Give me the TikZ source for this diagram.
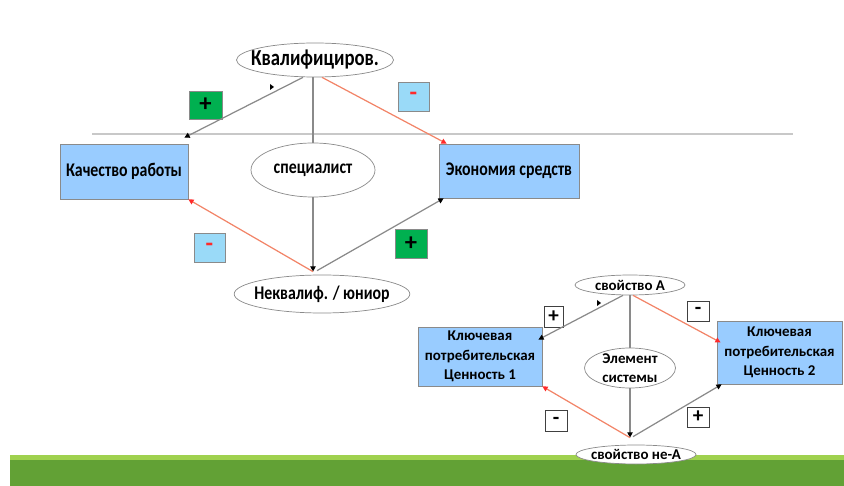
\documentclass[tikz,border=0pt]{standalone}
\usepackage{fontspec}
\setmainfont{Carlito}
\newfontfamily\condfont{Carlito}[FakeStretch=0.82]
\usetikzlibrary{arrows.meta,shapes.geometric}

\definecolor{boxblue}{HTML}{99CCFF}
\definecolor{signblue}{HTML}{9ADAF8}
\definecolor{signgreen}{HTML}{00B050}
\definecolor{linegray}{HTML}{8A8A8A}
\definecolor{rulegray}{HTML}{C8C8C8}
\definecolor{linered}{HTML}{F28468}
\definecolor{tipred}{HTML}{FF2A2A}
\definecolor{grassdark}{HTML}{62A135}
\definecolor{grasslight}{HTML}{9FD14E}

\begin{document}
\begin{tikzpicture}[x=0.2mm,y=-0.2mm,
  topfont/.style={font=\condfont\bfseries\fontsize{11}{13}\selectfont},
  lowfont/.style={font=\bfseries\fontsize{8.5}{11}\selectfont},
  oval/.style={ellipse,draw=linegray,fill=white,inner sep=0pt,align=center},
  valbox/.style={rectangle,draw=linegray,fill=boxblue,inner sep=0pt,align=center},
  signbox/.style={rectangle,draw=linegray,inner sep=0pt,font=\bfseries\fontsize{14}{14}\selectfont},
  wsign/.style={rectangle,draw=black!75,fill=white,inner sep=0pt,font=\bfseries\fontsize{12}{12}\selectfont},
  link/.style={draw=linegray,line width=0.7pt},
  tip/.style={-{Triangle[length=3pt,width=3pt,color=black]}},
  redlink/.style={draw=linered,line width=0.7pt,-{Triangle[length=3pt,width=3pt,color=tipred]}}]
\useasboundingbox (0,0) rectangle (844,486);
\fill [grassdark] (10,459) rectangle (844,486);
\fill [grasslight] (10,455) rectangle (844,460);
\draw [rulegray,line width=0.6pt] (92,134) -- (793,134);

\node [oval,font=\condfont\bfseries\fontsize{13}{15}\selectfont,minimum width=31.4mm,minimum height=6.8mm,inner xsep=-2.6mm] (kval) at (315,60) {Квалифициров.};
\node [oval,topfont,minimum width=24.8mm,minimum height=10.8mm] (spec) at (313,170) {специалист};
\node [oval,topfont,minimum width=34.6mm,minimum height=7.6mm,inner xsep=-1.1mm] (nekv) at (322,294) {Неквалиф. / юниор};
\node [valbox,topfont,minimum width=25.6mm,minimum height=11mm] (kach) at (124,171.5) {Качество работы};
\node [valbox,topfont,minimum width=28mm,minimum height=10.8mm] (econ) at (509,171) {Экономия средств};
\node [signbox,fill=signgreen,minimum width=6.6mm,minimum height=5.6mm] (plusA) at (205.5,105) {+};
\node [signbox,fill=signblue,text=tipred,minimum width=6.2mm,minimum height=5.8mm] (minusA) at (413.5,96.5) {-};
\node [signbox,fill=signblue,text=tipred,minimum width=6.2mm,minimum height=5.8mm] (minusB) at (209.5,247.5) {-};
\node [signbox,fill=signgreen,minimum width=6.4mm,minimum height=5.8mm] (plusB) at (411,243.5) {+};

\draw [link,tip] ([xshift=-2.4mm]kval.south) -- ([shift={(-4,-6)}]kach.north east);
\draw [link] (kval.south -| spec.north) -- (spec.north);
\draw [redlink] ([xshift=1.4mm]kval.south) -- ([xshift=1.6mm]econ.north west);
\coordinate (nkJoin) at ([yshift=0.6mm]nekv.north -| spec.south);
\draw [link,tip] (spec.south) -- (nkJoin);
\draw [redlink] (nkJoin) -- (kach.south east);
\draw [link,tip] ([shift={(4,-1)}]nkJoin) -- ([xshift=1mm]econ.south west);
\fill [black] (270,84) -- (274,87) -- (270,90) -- cycle;

\node [oval,lowfont,minimum width=22mm,minimum height=4mm] (svA) at (630,285) {свойство А};
\node [valbox,lowfont,minimum width=24.8mm,minimum height=11.8mm] (val1) at (480,356.5) {Ключевая\\потребительская\\Ценность 1};
\node [valbox,lowfont,minimum width=25mm,minimum height=12.6mm] (val2) at (779.5,352.5) {Ключевая\\потребительская\\Ценность 2};
\node [oval,lowfont,minimum width=18.2mm,minimum height=8mm,inner ysep=-0.5mm] (elem) at (630,368) {Элемент\\системы};
\node [oval,lowfont,minimum width=24mm,minimum height=3.8mm,inner xsep=-1.2mm] (svnA) at (636,454.5) {свойство не-А};
\node [wsign,minimum width=3.8mm,minimum height=4.2mm] (plusC) at (553.5,316.5) {+};
\node [wsign,minimum width=4.4mm,minimum height=4mm] (minusC) at (698,311) {-};
\node [wsign,minimum width=4.4mm,minimum height=4.2mm] (minusD) at (556,420.5) {-};
\node [wsign,minimum width=4.4mm,minimum height=4mm] (plusD) at (698,417) {+};

\draw [link,tip] ([xshift=-1.4mm]svA.south) -- ([shift={(-4,13)}]val1.north east);
\draw [link] (svA.south) -- (elem.north);
\draw [redlink] ([xshift=0.6mm]svA.south) -- ([shift={(4,-10)}]val2.west);
\coordinate (naJoin) at ([yshift=1.4mm]svnA.north -| elem.south);
\draw [link,tip] (elem.south) -- (naJoin);
\draw [redlink] (naJoin) -- (val1.south east);
\draw [link,tip] ([shift={(3,-1)}]naJoin) -- ([xshift=1mm]val2.south west);
\fill [black] (597,300) -- (601,303) -- (597,306) -- cycle;
\end{tikzpicture}
\end{document}
